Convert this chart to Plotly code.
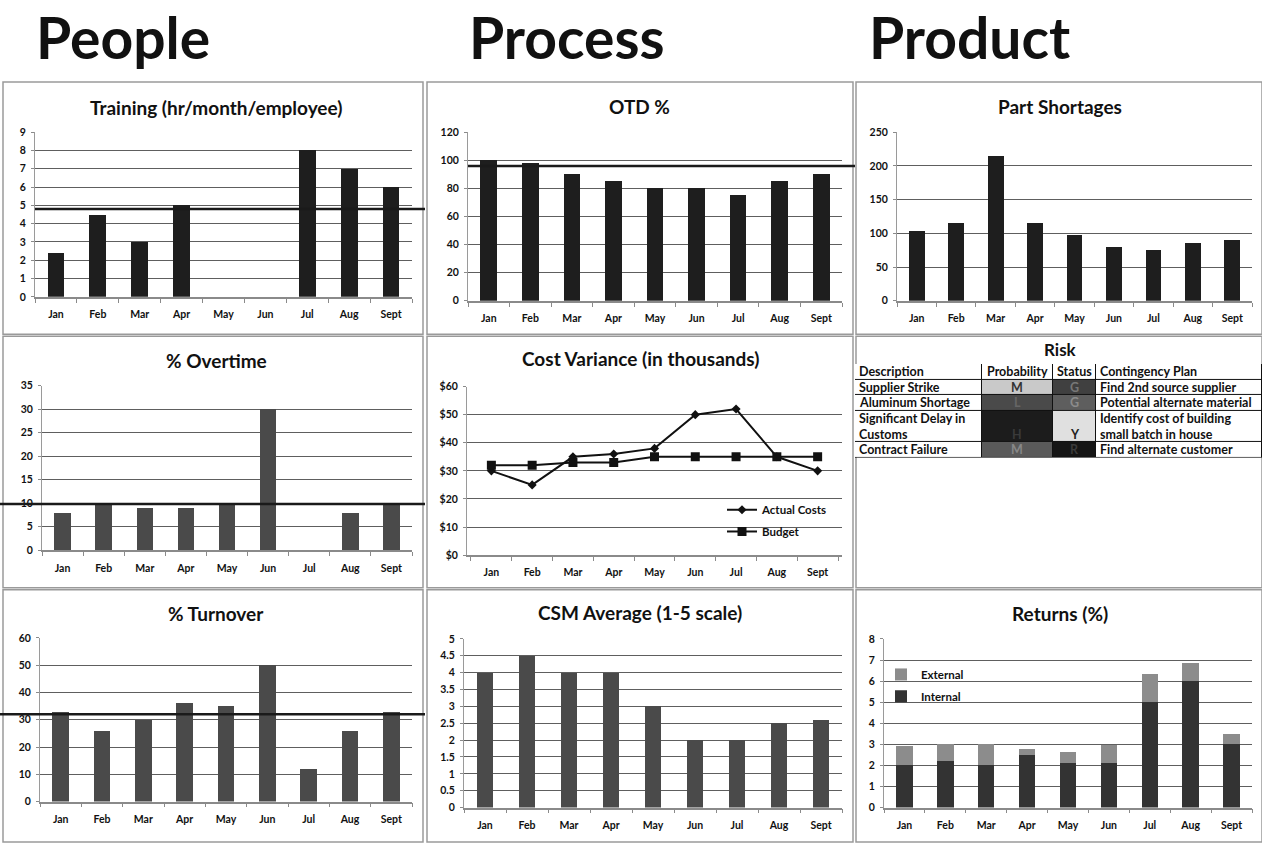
import plotly.graph_objects as go

W, H = 1262, 851

months = ["Jan", "Feb", "Mar", "Apr", "May", "Jun", "Jul", "Aug", "Sept"]

training_hours = [2.4, 4.5, 3.0, 5.0, None, None, 8.0, 7.0, 6.0]
training_target = 4.8
otd_pct = [100, 98, 90, 85, 80, 80, 75, 85, 90]
otd_target = 96
part_shortages = [104, 115, 215, 115, 98, 80, 75, 85, 90]
overtime_pct = [8, 10, 9, 9, 10, 30, None, 8, 10]
overtime_target = 9.8
actual_costs = [30, 25, 35, 36, 38, 50, 52, 35, 30]
budget_costs = [32, 32, 33, 33, 35, 35, 35, 35, 35]
turnover_pct = [33, 26, 30, 36, 35, 50, 12, 26, 33]
turnover_target = 32
csm_average = [4, 4.5, 4, 4, 3, 2, 2, 2.5, 2.6]
returns_internal = [2.0, 2.2, 2.0, 2.5, 2.1, 2.1, 5.0, 6.0, 3.0]
returns_external = [0.9, 0.8, 1.0, 0.3, 0.55, 0.85, 1.35, 0.85, 0.5]

risk_columns = ["Description", "Probability", "Status", "Contingency Plan"]
risk_description = ["Supplier Strike", "Aluminum Shortage",
                    "Significant Delay in<br>Customs", "Contract Failure"]
risk_probability = ["M", "L", "H", "M"]
risk_status = ["G", "G", "Y", "R"]
risk_plan = ["Find 2nd source supplier", "Potential alternate material",
             "Identify cost of building<br>small batch in house",
             "Find alternate customer"]

FONT = "Lato"
DARK = "#1e1e1e"
MID = "#4a4a4a"


def px(x):
    return x / W


def py(y):
    return 1 - y / H


fig = go.Figure()

# (title, title center x/y, plot box x0,x1,y0(top),y1(bottom), y range, dtick, prefix)
panels = [
    ("Training (hr/month/employee)", 216, 103, 35, 412, 128, 295, [0, 9], 1, ""),
    ("OTD %", 639, 102, 468, 842, 128, 299, [0, 120], 20, ""),
    ("Part Shortages", 1060, 102, 897, 1252, 128, 299, [0, 250], 50, ""),
    ("% Overtime", 216, 360, 42, 412, 385, 552, [0, 35], 5, ""),
    ("Cost Variance (in thousands)", 640, 358, 467, 842, 386, 557, [0, 60], 10, "$"),
    ("% Turnover", 216, 616, 40, 412, 641, 807, [0, 60], 10, ""),
    ("CSM Average (1-5 scale)", 640, 615, 464, 842, 642, 813, [0, 5], 0.5, ""),
    ("Returns (%)", 1060, 616, 884, 1252, 642, 813, [0, 8], 1, ""),
]

tick_font = dict(family=FONT, size=10.5, color="#111", weight="bold")
layout_axes = {}
annotations = []
for i, (title, tx, ty, x0, x1, y0, y1, yr, dt, pre) in enumerate(panels, start=1):
    sfx = "" if i == 1 else str(i)
    layout_axes["xaxis" + sfx] = dict(
        domain=[px(x0), px(x1)], anchor="y" + sfx, type="category",
        categoryorder="array", categoryarray=months,
        tickson="boundaries", ticks="outside", ticklen=4, tickcolor="#8a8a8a",
        showline=True, linecolor="#8a8a8a", linewidth=1.5, showgrid=False,
        tickfont=tick_font, ticklabelstandoff=7, fixedrange=True,
    )
    layout_axes["yaxis" + sfx] = dict(
        domain=[py(y1), py(y0)], anchor="x" + sfx, range=yr, dtick=dt,
        tickprefix=pre, ticks="outside", ticklen=3, tickcolor="#8a8a8a",
        showline=True, linecolor="#9a9a9a", linewidth=1,
        showgrid=True, gridcolor="#5e5e5e", gridwidth=1.3, zeroline=False,
        tickfont=tick_font, ticklabelstandoff=3, fixedrange=True,
    )
    annotations.append(dict(
        text=title, x=px(tx), y=py(ty), xref="paper", yref="paper",
        showarrow=False, xanchor="center", yanchor="middle",
        font=dict(family=FONT, size=19, color="#111", weight="bold"),
    ))


def bar(values, axis, color, name=None, legend=None):
    return go.Bar(x=months, y=values, xaxis="x" + axis, yaxis="y" + axis,
                  marker=dict(color=color, line=dict(width=0)), width=0.4,
                  name=name, showlegend=legend is not None,
                  legend=legend or "legend", hoverinfo="x+y")


fig.add_trace(bar(training_hours, "", DARK))
fig.add_trace(bar(otd_pct, "2", DARK))
fig.add_trace(bar(part_shortages, "3", DARK))
fig.add_trace(bar(overtime_pct, "4", MID))

fig.add_trace(go.Scatter(
    x=months, y=actual_costs, xaxis="x5", yaxis="y5", name="Actual Costs",
    mode="lines+markers", line=dict(color="#111", width=2),
    marker=dict(symbol="diamond", size=7, color="#111"), legend="legend"))
fig.add_trace(go.Scatter(
    x=months, y=budget_costs, xaxis="x5", yaxis="y5", name="Budget",
    mode="lines+markers", line=dict(color="#111", width=2),
    marker=dict(symbol="square", size=9, color="#111"), legend="legend2"))

fig.add_trace(bar(turnover_pct, "6", MID))
fig.add_trace(bar(csm_average, "7", MID))
fig.add_trace(bar(returns_internal, "8", "#333333", "Internal", "legend4"))
fig.add_trace(bar(returns_external, "8", "#8c8c8c", "External", "legend3"))

# ---- Risk register: a grid of cells on its own axes ----
col_widths = [127, 71, 43, 166]
col_align = ["left", "center", "center", "left"]
# gray level of each rating cell (probability / status columns)
prob_fill = [201, 74, 28, 90]
status_fill = [64, 94, 224, 21]
prob_ink = ["#333333", "#666666", "#3a3a3a", "#888888"]
status_ink = ["#777777", "#8c8c8c", "#222222", "#3a3a3a"]

col_edges = [0]
for w in col_widths:
    col_edges.append(col_edges[-1] + w)
row_spans = [1] + [2 if "<br>" in d else 1 for d in risk_description]
row_edges = [0]
for s in row_spans:
    row_edges.append(row_edges[-1] + s)

z = [[255, 255, 255, 255]]
for k in range(len(risk_description)):
    z.append([255, prob_fill[k], status_fill[k], 255])

fig.add_trace(go.Heatmap(
    x=col_edges, y=row_edges, z=z, xaxis="x9", yaxis="y9",
    colorscale=[[0, "rgb(0,0,0)"], [1, "rgb(255,255,255)"]],
    zmin=0, zmax=255, showscale=False, xgap=1, ygap=1, hoverinfo="skip",
))

shapes = [dict(type="rect", xref="x9", yref="y9", layer="below",
               x0=col_edges[0], x1=col_edges[-1], y0=row_edges[0], y1=row_edges[-1],
               fillcolor="#111", line=dict(color="#111", width=1))]

cell_font = dict(family=FONT, size=12.5, color="#111", weight="bold")


def cell_x(c):
    if col_align[c] == "left":
        return col_edges[c] + 2, "left"
    return (col_edges[c] + col_edges[c + 1]) / 2, "center"


for c, name in enumerate(risk_columns):
    x, anchor = cell_x(c)
    annotations.append(dict(text=name, x=x, y=(row_edges[0] + row_edges[1]) / 2,
                            xref="x9", yref="y9", showarrow=False, xanchor=anchor,
                            align=anchor, yanchor="middle", font=cell_font))

for k in range(len(risk_description)):
    top, bottom = row_edges[k + 1], row_edges[k + 2]
    mid = (top + bottom) / 2
    for c, (text, ink) in enumerate([(risk_description[k], "#111"),
                                     (risk_probability[k], prob_ink[k]),
                                     (risk_status[k], status_ink[k]),
                                     (risk_plan[k], "#111")]):
        x, anchor = cell_x(c)
        # ratings sit on the bottom line of a tall row
        y = bottom - 0.5 if anchor == "center" else mid
        annotations.append(dict(text=text, x=x, y=y, xref="x9", yref="y9",
                                showarrow=False, xanchor=anchor, align=anchor,
                                yanchor="middle", font=dict(cell_font, color=ink)))

layout_axes["xaxis9"] = dict(domain=[px(855), px(1262)], anchor="y9",
                             range=[0, col_edges[-1]], visible=False, fixedrange=True)
layout_axes["yaxis9"] = dict(domain=[py(458), py(363)], anchor="x9",
                             range=[row_edges[-1], 0], visible=False, fixedrange=True)

annotations.append(dict(
    text="Risk", x=px(1060), y=py(348), xref="paper", yref="paper",
    showarrow=False, xanchor="center", yanchor="middle",
    font=dict(family=FONT, size=17, color="#111", weight="bold")))

for label, cx in [("People", 123), ("Process", 567), ("Product", 969)]:
    annotations.append(dict(
        text=label, x=px(cx), y=py(31), xref="paper", yref="paper",
        showarrow=False, xanchor="center", yanchor="middle",
        font=dict(family=FONT, size=57, color="#111", weight="bold")))

# panel frames
cols = [(3, 423), (427, 853), (856, 1262)]
rows = [(77, 333), (335, 590), (592, 848)]
for (cx0, cx1) in cols:
    for (ry0, ry1) in rows:
        shapes.append(dict(type="rect", xref="paper", yref="paper",
                           x0=px(cx0), x1=px(cx1), y0=py(ry1), y1=py(ry0),
                           line=dict(color="#9a9a9a", width=1.5), layer="below"))

# goal lines
for axis, val, gx0, gx1 in [("y", training_target, 35, 425),
                            ("y2", otd_target, 468, 855),
                            ("y4", overtime_target, 0, 425),
                            ("y6", turnover_target, 0, 425)]:
    shapes.append(dict(type="line", xref="paper", yref=axis,
                       x0=px(gx0), x1=px(gx1), y0=val, y1=val,
                       line=dict(color="#1a1a1a", width=2.5)))

legend_font = dict(family=FONT, size=11.5, color="#111", weight="bold")
legend_common = dict(bgcolor="rgba(0,0,0,0)", font=legend_font,
                     xanchor="left", yanchor="middle", itemwidth=30)

fig.update_layout(
    width=W, height=H, margin=dict(l=0, r=0, t=0, b=0),
    paper_bgcolor="white", plot_bgcolor="white",
    barmode="stack", showlegend=True,
    legend=dict(x=px(722), y=py(511), **legend_common),
    legend2=dict(x=px(722), y=py(533), **legend_common),
    legend3=dict(x=px(881), y=py(678), **legend_common),
    legend4=dict(x=px(881), y=py(700), **legend_common),
    annotations=annotations, shapes=shapes,
    **layout_axes,
)

fig.write_html("out.html")
